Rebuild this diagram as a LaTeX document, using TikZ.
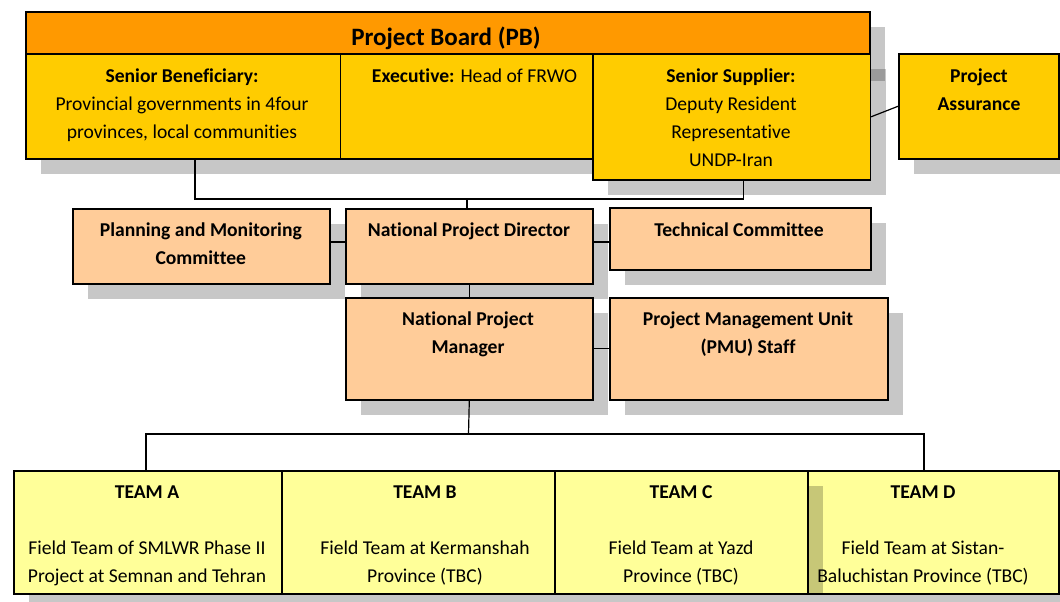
\documentclass[tikz,border=0pt]{standalone}
\usepackage{fontspec}
\setmainfont{Carlito}[Ligatures=CommonOff]

\definecolor{pborange}{HTML}{FF9900}
\definecolor{pbgold}{HTML}{FFCC00}
\definecolor{peach}{HTML}{FFCC99}
\definecolor{teamyellow}{HTML}{FFFF99}

% centred stack of lines whose baseline is the first line
\newcommand\boxlines[1]{\begin{tabular}[t]{@{}c@{}}#1\end{tabular}}

\tikzset{
  orgbox/.style={draw=black, line width=1.6pt, rectangle, inner sep=0pt, anchor=north west},
  dropshadow/.style={fill=black, fill opacity=0.22},
  conn/.style={draw=black, line width=1.2pt},
  txt/.style={anchor=base, inner sep=0pt, font=\fontsize{19.6}{28}\selectfont},
  title/.style={anchor=base, inner sep=0pt, font=\fontsize{25}{30}\selectfont\bfseries},
}

% shadowed box: name, x1, y1, x2, y2, fill
\newcommand\shadowedbox[6]{%
  \fill[dropshadow] (#2+16,#3+16) rectangle (#4+16,#5+16);
  \node[orgbox, fill=#6, minimum width={(#4-#2)*1pt}, minimum height={(#5-#3)*1pt}] (#1) at (#2,#3) {};
}

\begin{document}
\begin{tikzpicture}[x=1pt, y=-1pt]
\useasboundingbox (0,0) rectangle (1060,602);
\clip (0,0) rectangle (1060,602);
\fill[white] (0,0) rectangle (1060,602);

% Project Board
\fill[dropshadow] (41,27) rectangle (885,81);
\node[orgbox, fill=pborange, minimum width=844pt, minimum height=42pt] (board) at (25,11) {};
\shadowedbox{sb}{25}{53}{339.5}{158}{pbgold}
\shadowedbox{exec}{339.5}{53}{592}{158}{pbgold}
\shadowedbox{ss}{592}{53}{869.5}{179}{pbgold}
\shadowedbox{pa}{898}{53}{1058}{158}{pbgold}

% management level
\shadowedbox{pmc}{72}{208}{329}{283}{peach}
\shadowedbox{npd}{345}{208}{592}{283}{peach}
\shadowedbox{tc}{609}{207}{870}{269}{peach}
\shadowedbox{npm}{345}{297}{592}{399}{peach}
\shadowedbox{pmu}{609}{297}{887}{399}{peach}

% field teams
\shadowedbox{ta}{13}{470}{281}{593}{teamyellow}
\shadowedbox{tb}{281}{470}{554}{593}{teamyellow}
\shadowedbox{td}{807}{470}{1058}{593}{teamyellow}
\shadowedbox{tcc}{554}{470}{807}{593}{teamyellow}

% texts
\node[title] (boardtxt) at (446,45.6) {Project Board (PB)};
\node[txt] (sbtxt) at (182,82.8) {\boxlines{\textbf{Senior Beneficiary:}\\Provincial governments in 4four\\provinces, local communities}};
\node[txt] (exectxt) at (474.5,82.8) {\textbf{Executive:} Head of FRWO};
\node[txt] (sstxt) at (731,82.8) {\boxlines{\textbf{Senior Supplier:}\\Deputy Resident\\Representative\\UNDP-Iran}};
\node[txt] (patxt) at (979,82.8) {\boxlines{\textbf{Project}\\\textbf{Assurance}}};

\node[txt] (pmctxt) at (200.8,236) {\boxlines{\textbf{Planning and Monitoring}\\\textbf{Committee}}};
\node[txt] (npdtxt) at (469,236) {\textbf{National Project Director}};
\node[txt] (tctxt) at (739,236) {\textbf{Technical Committee}};
\node[txt] (npmtxt) at (468,325) {\boxlines{\textbf{National Project}\\\textbf{Manager}}};
\node[txt] (pmutxt) at (748,325) {\boxlines{\textbf{Project Management Unit}\\\textbf{(PMU) Staff}}};

\node[txt] (tatxt) at (147,498) {\boxlines{\textbf{TEAM A}\\ \\Field Team of SMLWR Phase II\\Project at Semnan and Tehran}};
\node[txt] (tbtxt) at (425,498) {\boxlines{\textbf{TEAM B}\\ \\Field Team at Kermanshah\\Province (TBC)}};
\node[txt] (tctxt2) at (681,498) {\boxlines{\textbf{TEAM C}\\ \\Field Team at Yazd\\Province (TBC)}};
\node[txt] (tdtxt) at (923,498) {\boxlines{\textbf{TEAM D}\\ \\Field Team at Sistan-\\Baluchistan Province (TBC)}};

% connectors
\coordinate (sbdrop) at (195,199);
\coordinate (ssdrop) at (743.5,199);
\coordinate (bj) at (467,199);
\coordinate (row2) at (0,242);
\coordinate (tj) at (468.5,434);
\coordinate (tadrop) at (146,434);
\coordinate (tddrop) at (924,434);

\draw[conn] (sb.south -| sbdrop) -- (sbdrop) -- (ssdrop) -- (ss.south -| ssdrop);
\draw[conn] (bj) -- (npd.north -| bj);
\draw[conn] (ss.east) -- (pa.west);
\draw[conn] (pmc.east |- row2) -- (npd.west |- row2);
\draw[conn] (npd.east |- row2) -- (tc.west |- row2);
\draw[conn] (npd.south) -- (npm.north);
\draw[conn] (npm.east) -- (pmu.west);
\draw[conn] (npm.south) -- (tj);
\draw[conn] (ta.north -| tadrop) -- (tadrop) -- (tddrop) -- (td.north -| tddrop);
\end{tikzpicture}
\end{document}
